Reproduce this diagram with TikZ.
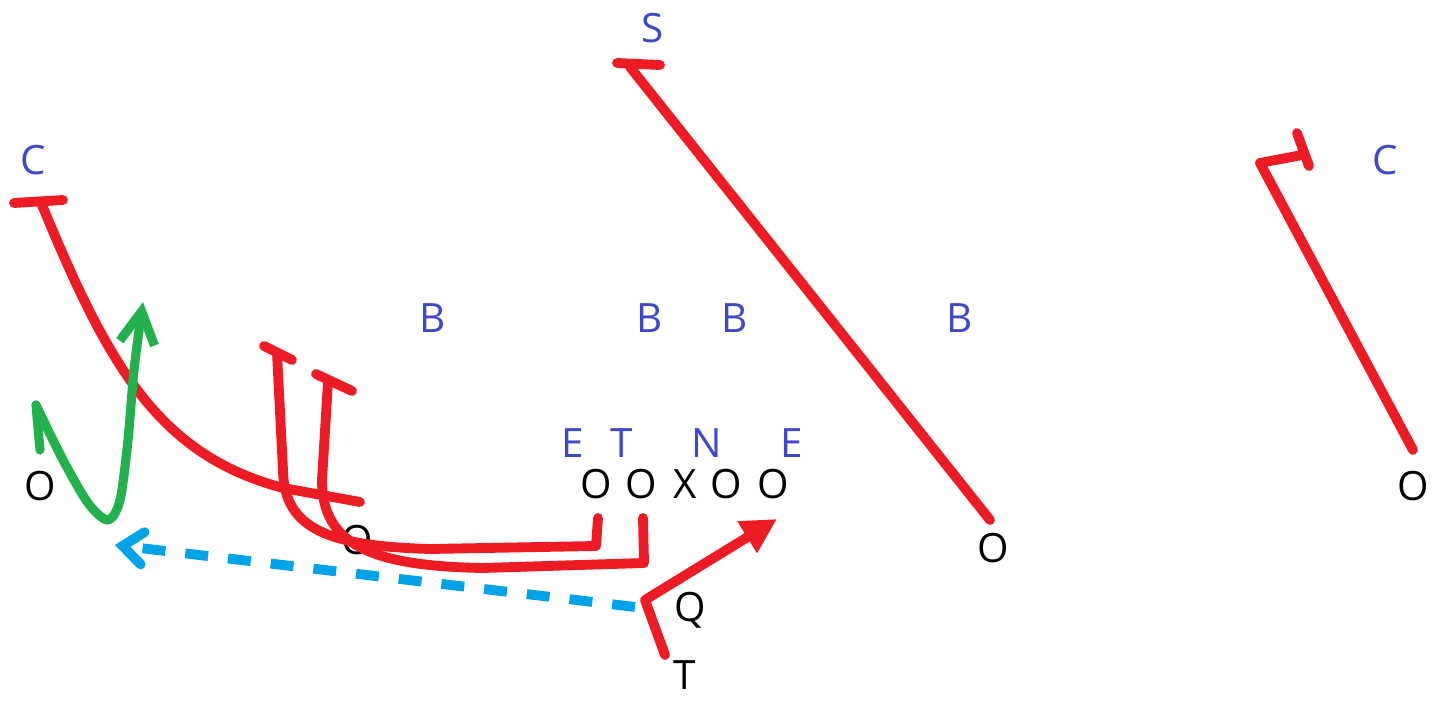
\documentclass[tikz,border=0pt]{standalone}
\usepackage{fontspec}
\setmainfont{Open Sans}
\usetikzlibrary{arrows.meta}
\definecolor{paintred}{RGB}{237,28,36}
\definecolor{paintgreen}{RGB}{34,177,76}
\definecolor{paintcyan}{RGB}{0,162,232}
\definecolor{paintblue}{RGB}{63,72,204}
\begin{document}
\begin{tikzpicture}[x=0.02cm,y=-0.02cm,
 off/.style={inner sep=0pt,font=\fontsize{23}{23}\selectfont},
 def/.style={off,text=paintblue},
 route/.style={paintred,line width=5.6pt,line cap=round,line join=round},
 grn/.style={paintgreen,line width=5.2pt,line cap=round,line join=round},
 pass/.style={paintcyan,line width=5.6pt,dash pattern=on 0.46cm off 0.4cm}]
\useasboundingbox (0,0) rectangle (1437,702);
\node[def] (ss) at (653,28) {S};
\node[def] (lc) at (33,160) {C};
\node[def] (rc) at (1385,160) {C};
\node[def] (b1) at (433,318) {B};
\node[def] (b2) at (650,318) {B};
\node[def] (b3) at (735,318) {B};
\node[def] (b4) at (960,318) {B};
\node[def] (le) at (573,443) {E};
\node[def] (lt) at (622,443) {T};
\node[def] (nt) at (707,443) {N};
\node[def] (re) at (792,443) {E};
\node[off] (wl) at (40,486) {O};
\node[off] (lg) at (596,484) {O};
\node[off] (lg2) at (641,484) {O};
\node[off] (ctr) at (685,484) {X};
\node[off] (rg) at (726,484) {O};
\node[off] (rtk) at (773,484) {O};
\node[off] (sl) at (357,540) {O};
\node[off] (te) at (993,548) {O};
\node[off] (wr) at (1413,486) {O};
\node[off] (qb) at (690,610) {Q};
\node[off] (tb) at (685,675) {T};
\draw[route] (360,502) -- (283,488) .. controls (160,455) and (110,370) .. (42,205);
\draw[route] (14,203) -- (63,200);
\draw[route] (598,518) -- (596,546) -- (430,549) .. controls (330,546) and (284,530) .. (283,470) -- (277,353);
\draw[route] (264,346) -- (292,360);
\draw[route] (643,518) -- (644,563) -- (483,568) .. controls (372,566) and (322,545) .. (322,480) -- (328,382);
\draw[route] (316,374) -- (352,391);
\draw[route] (990,520) -- (630,67);
\draw[route] (617,63) -- (660,65);
\draw[route] (1413,450) -- (1260,163) -- (1302,155);
\draw[route] (1297,133) -- (1309,166);
\draw[route,-{Triangle[length=7mm,width=7mm]}] (665,655) -- (645,600) -- (777,519);
\draw[grn,-{Straight Barb[length=6.4mm,width=7mm]}] plot[smooth] coordinates {(36,405) (62,458) (88,503) (108,520) (120,500) (128,440) (134,370) (143,302)};
\draw[grn] (36,405) -- (40,450);
\draw[pass,-{Straight Barb[length=4mm,width=6.5mm,line cap=round]}] (635,607) -- (115,545);
\end{tikzpicture}
\end{document}
